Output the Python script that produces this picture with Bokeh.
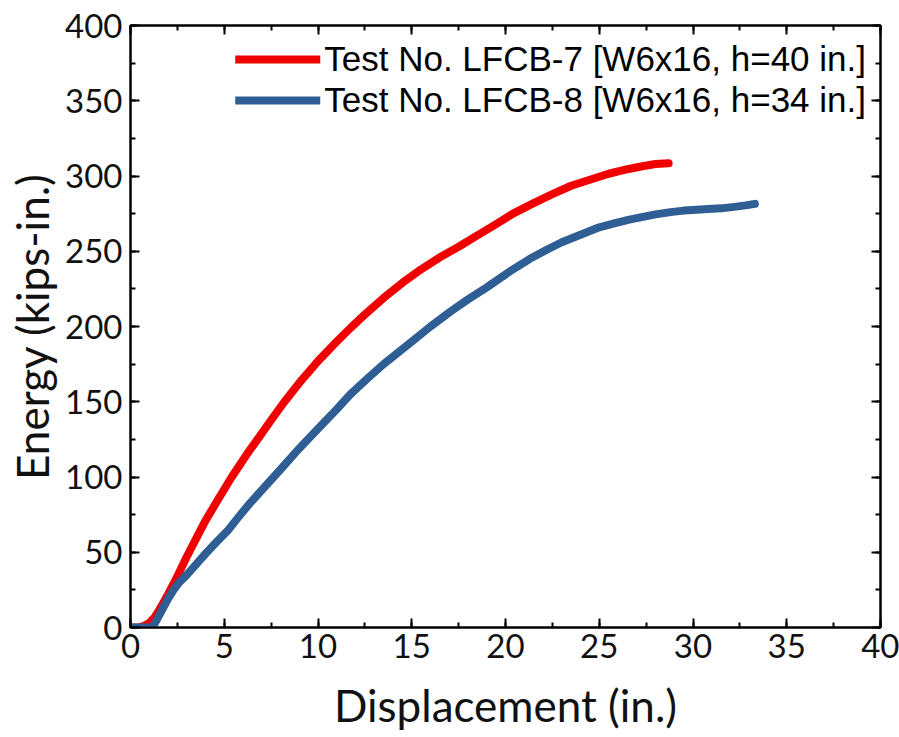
from bokeh.plotting import figure
from bokeh.models import (Range1d, LinearAxis, SingleIntervalTicker, Legend, LegendItem,
                          CustomJSTickFormatter)
from bokeh.embed import file_html
from bokeh.resources import INLINE

red_x = [0, 0.4, 0.7, 1.0, 1.3, 1.6, 2.0, 2.5, 3.0, 3.5, 4.0, 4.62, 5.4, 6.2, 7.0, 7.6, 8.18,
         9.0, 10.0, 11.0, 11.73, 12.5, 13.5, 14.5, 15.5, 16.0, 16.5, 17.5, 18.5, 19.5, 20.4,
         21.5, 22.5, 23.5, 24.5, 25.5, 26.5, 27.3, 28.0, 28.7]
red_y = [0, 0, 1, 3, 7, 13, 22, 34, 47, 59, 71, 84, 100, 115, 129, 139.5, 149.5,
         162.5, 177, 190, 199, 208, 219, 229, 238, 242, 246, 253, 260.5, 268, 275,
         282, 288, 293.5, 297.5, 301.5, 304.5, 306.5, 308, 308.5]

blue_x = [0, 0.6, 1.16, 1.4, 1.7, 2.0, 2.3, 2.6, 3.0, 3.5, 4.0, 4.6, 5.16, 5.8, 6.4, 7.2, 8.0,
          9.0, 10.0, 11.0, 11.73, 12.6, 13.5, 14.3, 15.0, 16.0, 17.07, 18.0, 19.0, 20.4, 21.3,
          22.2, 23.0, 24.0, 24.9, 25.8, 26.6, 27.2, 28.0, 28.8, 29.5, 30.2, 30.8, 31.5, 32.2,
          32.8, 33.3]
blue_y = [0, 0, 0, 5, 12, 19, 25, 30, 35, 42, 49, 57, 64, 74, 83, 94, 105,
          119, 132, 145, 155, 165, 175, 183, 190, 200, 210, 218, 226, 238, 245,
          251, 256, 261, 265.5, 268.5, 271, 272.5, 274.5, 276, 277, 277.5, 278, 278.5, 279.5,
          280.5, 281.5]

label_red = "Test No. LFCB-7 [W6x16, h=40 in.]"
label_blue = "Test No. LFCB-8 [W6x16, h=34 in.]"

TICK_FONT = "Lato"

p = figure(width=899, height=737, output_backend="svg", toolbar_location=None,
           x_range=Range1d(0, 40), y_range=Range1d(0, 400),
           x_axis_label="Displacement (in.)", y_axis_label="Energy (kips-in.)",
           min_border_left=130, min_border_right=19, min_border_top=25, min_border_bottom=110)
p.grid.visible = False
p.outline_line_color = "black"
p.outline_line_width = 2
p.background_fill_color = "white"
p.border_fill_color = "white"

r1 = p.line(red_x, red_y, line_color="#F00000", line_width=8, line_cap="round", line_join="round")
r2 = p.line(blue_x, blue_y, line_color="#2E5E94", line_width=8, line_cap="round", line_join="round")

p.xaxis.ticker = SingleIntervalTicker(interval=5, num_minor_ticks=2)
p.yaxis.ticker = SingleIntervalTicker(interval=50, num_minor_ticks=2)

for ax in [p.xaxis[0], p.yaxis[0]]:
    ax.major_tick_in = 9
    ax.major_tick_out = 0
    ax.minor_tick_in = 5
    ax.minor_tick_out = 0
    ax.axis_line_width = 2
    ax.major_tick_line_width = 2
    ax.minor_tick_line_width = 2
    ax.axis_line_color = "black"
    ax.major_label_text_font = TICK_FONT
    ax.major_label_text_font_size = "33px"
    ax.major_label_text_color = "#111111"
    ax.axis_label_text_font = TICK_FONT
    ax.axis_label_text_font_size = "44px"
    ax.axis_label_text_font_style = "normal"
    ax.axis_label_text_color = "#111111"

p.xaxis.major_label_standoff = 6
p.yaxis.major_label_standoff = 8
p.xaxis.axis_label_standoff = 18
p.yaxis.axis_label_standoff = 4

top = LinearAxis(ticker=SingleIntervalTicker(interval=5, num_minor_ticks=2),
                 formatter=CustomJSTickFormatter(code="return ''"))
right = LinearAxis(ticker=SingleIntervalTicker(interval=50, num_minor_ticks=2),
                   formatter=CustomJSTickFormatter(code="return ''"))
for ax in [top, right]:
    ax.major_tick_in = 9
    ax.major_tick_out = 0
    ax.minor_tick_in = 5
    ax.minor_tick_out = 0
    ax.axis_line_width = 2
    ax.major_tick_line_width = 2
    ax.minor_tick_line_width = 2
    ax.major_label_standoff = 0
p.add_layout(top, "above")
p.add_layout(right, "right")

legend = Legend(items=[LegendItem(label=label_red, renderers=[r1]),
                       LegendItem(label=label_blue, renderers=[r2])],
                location="top_right")
legend.label_text_font = "Liberation Sans"
legend.label_text_font_size = "35px"
legend.label_text_color = "black"
legend.glyph_width = 85
legend.glyph_height = 36
legend.label_height = 36
legend.label_standoff = 4
legend.spacing = 1
legend.padding = 0
legend.margin = 14
legend.border_line_color = None
legend.background_fill_alpha = 0
p.add_layout(legend)

open("out.html", "w").write(file_html(p, INLINE))
